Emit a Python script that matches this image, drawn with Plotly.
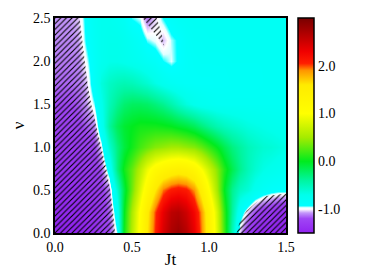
import plotly.graph_objects as go

# ---------------- data ----------------
JT = [0.0, 0.05, 0.1, 0.15, 0.2, 0.25, 0.3, 0.35, 0.4, 0.45, 0.5, 0.55, 0.6, 0.65, 0.7,
      0.75, 0.8, 0.85, 0.9, 0.95, 1.0, 1.05, 1.1, 1.15, 1.2, 1.25, 1.3, 1.35, 1.4, 1.45, 1.5]
NU = [0.0, 0.25, 0.5, 0.75, 1.0, 1.25, 1.5, 1.75, 2.0, 2.25, 2.5]

Z_NU_000 = [-1.5, -1.5, -1.5, -1.5, -1.45, -1.4, -1.3, -1.2, -0.95, 0.05, 0.6, 1.1, 1.6, 2.05, 2.45,
            2.7, 2.8, 2.65, 2.35, 1.95, 1.4, 0.8, 0.2, -0.5, -1.05, -1.3, -1.45, -1.5, -1.5, -1.5, -1.5]
Z_NU_025 = [-1.45, -1.45, -1.45, -1.45, -1.42, -1.38, -1.3, -1.15, -0.82, 0.0, 0.55, 1.05, 1.55, 2.0, 2.35,
            2.6, 2.65, 2.5, 2.25, 1.9, 1.35, 0.75, 0.15, -0.4, -0.85, -1.05, -1.2, -1.3, -1.35, -1.4, -1.45]
Z_NU_050 = [-1.4, -1.4, -1.4, -1.4, -1.37, -1.33, -1.25, -1.1, -0.6, -0.1, 0.35, 0.8, 1.2, 1.6, 1.95,
            2.1, 2.15, 2.1, 1.9, 1.5, 1.0, 0.5, 0.0, -0.35, -0.55, -0.63, -0.75, -0.83, -0.88, -0.9, -0.9]
Z_NU_075 = [-1.35, -1.35, -1.35, -1.35, -1.32, -1.27, -1.17, -0.85, -0.3, 0.05, 0.3, 0.6, 0.9, 1.15, 1.3,
            1.4, 1.45, 1.4, 1.25, 1.0, 0.7, 0.4, 0.1, -0.15, -0.35, -0.5, -0.6, -0.68, -0.72, -0.75, -0.78]
Z_NU_100 = [-1.3, -1.3, -1.3, -1.3, -1.27, -1.22, -1.0, -0.6, -0.3, -0.1, 0.05, 0.2, 0.3, 0.4, 0.45,
            0.5, 0.5, 0.45, 0.4, 0.3, 0.15, 0.0, -0.15, -0.3, -0.4, -0.5, -0.55, -0.6, -0.62, -0.65, -0.68]
Z_NU_125 = [-1.25, -1.25, -1.25, -1.22, -1.17, -1.1, -0.8, -0.4, -0.18, -0.06, 0.0, 0.05, 0.05, 0.05, 0.03,
            0.0, -0.05, -0.1, -0.18, -0.28, -0.38, -0.47, -0.53, -0.58, -0.62, -0.66, -0.68, -0.7, -0.72, -0.73, -0.74]
Z_NU_150 = [-1.2, -1.2, -1.2, -1.17, -1.08, -0.95, -0.72, -0.5, -0.35, -0.25, -0.2, -0.2, -0.22, -0.28, -0.35,
            -0.45, -0.55, -0.65, -0.72, -0.76, -0.78, -0.8, -0.8, -0.8, -0.8, -0.8, -0.8, -0.8, -0.8, -0.8, -0.8]
Z_NU_175 = [-1.15, -1.15, -1.15, -1.12, -1.05, -0.85, -0.65, -0.55, -0.5, -0.48, -0.5, -0.55, -0.6, -0.68, -0.75,
            -0.8, -0.83, -0.85, -0.85, -0.85, -0.85, -0.84, -0.84, -0.83, -0.83, -0.83, -0.83, -0.82, -0.82, -0.82, -0.82]
Z_NU_200 = [-1.12, -1.12, -1.12, -1.1, -0.98, -0.85, -0.75, -0.7, -0.7, -0.72, -0.75, -0.78, -0.82, -0.86, -0.93,
            -0.97, -0.92, -0.86, -0.84, -0.83, -0.83, -0.83, -0.83, -0.82, -0.82, -0.82, -0.82, -0.82, -0.82, -0.82, -0.82]
Z_NU_225 = [-1.1, -1.1, -1.1, -1.07, -0.92, -0.82, -0.75, -0.72, -0.72, -0.75, -0.8, -0.86, -0.95, -0.98, -1.05,
            -0.96, -0.92, -0.85, -0.82, -0.82, -0.81, -0.81, -0.8, -0.8, -0.8, -0.8, -0.8, -0.8, -0.8, -0.8, -0.8]
Z_NU_250 = [-1.08, -1.08, -1.08, -1.04, -0.9, -0.8, -0.75, -0.75, -0.78, -0.82, -0.94, -0.97, -1.12, -1.03, -0.93,
            -0.86, -0.82, -0.81, -0.8, -0.8, -0.8, -0.8, -0.8, -0.8, -0.8, -0.8, -0.8, -0.8, -0.8, -0.8, -0.8]

Z = [Z_NU_000, Z_NU_025, Z_NU_050, Z_NU_075, Z_NU_100, Z_NU_125,
     Z_NU_150, Z_NU_175, Z_NU_200, Z_NU_225, Z_NU_250]

# hatched regions (value < -1), boundaries
HATCH_LEFT_JT = [0.0, 0.39, 0.377, 0.358, 0.333, 0.30, 0.265, 0.235, 0.21, 0.192, 0.175, 0.16, 0.0]
HATCH_LEFT_NU = [0.0, 0.0, 0.25, 0.5, 0.75, 1.0, 1.25, 1.5, 1.75, 2.0, 2.25, 2.5, 2.5]
HATCH_RIGHT_JT = [1.18, 1.2, 1.245, 1.31, 1.375, 1.44, 1.5, 1.5]
HATCH_RIGHT_NU = [0.0, 0.14, 0.26, 0.36, 0.43, 0.45, 0.46, 0.0]
HATCH_TOP_JT = [0.569, 0.64, 0.71, 0.69, 0.66]
HATCH_TOP_NU = [2.5, 2.34, 2.175, 2.34, 2.5]

X_TICKS = [0.0, 0.5, 1.0, 1.5]
X_TICKTEXT = ["0.0", "0.5", "1.0", "1.5"]
Y_TICKS = [0.0, 0.5, 1.0, 1.5, 2.0, 2.5]
Y_TICKTEXT = ["0.0", "0.5", "1.0", "1.5", "2.0", "2.5"]
CB_TICKS = [-1.0, 0.0, 1.0, 2.0]
CB_TICKTEXT = ["-1.0", "0.0", "1.0", "2.0"]
ZMIN, ZMAX = -1.5, 3.0

# colour stops (value, colour)
CS_VALUES = [-1.5, -1.2, -1.08, -1.0, -0.97, -0.93, -0.7, -0.4, 0.0, 0.5, 1.0, 1.6, 1.9, 2.05, 2.3, 3.0]
CS_COLORS = ["rgb(145,35,240)", "rgb(160,70,245)", "rgb(195,150,250)", "rgb(255,255,255)",
             "rgb(225,255,255)", "rgb(0,255,255)", "rgb(0,255,235)", "rgb(0,245,160)",
             "rgb(0,235,30)", "rgb(165,235,0)", "rgb(255,255,0)", "rgb(255,235,0)",
             "rgb(255,150,0)", "rgb(255,30,0)", "rgb(240,0,0)", "rgb(120,0,0)"]
colorscale = [[(v - ZMIN) / (ZMAX - ZMIN), c] for v, c in zip(CS_VALUES, CS_COLORS)]

SERIF = "Liberation Serif"

# ---------------- figure ----------------
# the page has an 8px body margin, so the figure is 8px smaller and margins shifted
FIG_W, FIG_H = 361, 261
M_L, M_T, M_R, M_B = 47, 10, 83, 36
PLOT_W = FIG_W - M_L - M_R

fig = go.Figure()

CB_X = 1.052
CB_THICK = 16

fig.add_trace(go.Heatmap(
    x=JT, y=NU, z=Z, zmin=ZMIN, zmax=ZMAX, colorscale=colorscale, zsmooth="best",
    colorbar=dict(
        x=CB_X, xanchor="left", y=0, yanchor="bottom", len=1, lenmode="fraction",
        thickness=CB_THICK, thicknessmode="pixels", outlinewidth=1.5, outlinecolor="black",
        xpad=0, ypad=0, tickvals=CB_TICKS, ticktext=CB_TICKTEXT, ticks="",
        tickfont=dict(family=SERIF, size=14, color="black"),
    ),
    hoverinfo="skip",
))

for xs, ys in [(HATCH_LEFT_JT, HATCH_LEFT_NU), (HATCH_RIGHT_JT, HATCH_RIGHT_NU),
               (HATCH_TOP_JT, HATCH_TOP_NU)]:
    fig.add_trace(go.Scatter(
        x=xs, y=ys, mode="lines", line=dict(width=0, color="black"),
        fill="toself", fillcolor="rgba(0,0,0,0)",
        fillpattern=dict(shape="/", fgcolor="black", bgcolor="rgba(0,0,0,0)",
                         size=4, solidity=0.28, fillmode="replace"),
        hoverinfo="skip", showlegend=False,
    ))

# dashed tick marks across the colour bar
for v in CB_TICKS:
    yp = (v - ZMIN) / (ZMAX - ZMIN)
    fig.add_shape(type="line", xref="paper", yref="paper",
                  x0=CB_X, x1=CB_X + CB_THICK / PLOT_W, y0=yp, y1=yp,
                  line=dict(color="black", width=1.5, dash="5px,3px"))

fig.update_layout(
    width=FIG_W, height=FIG_H,
    margin=dict(l=M_L, r=M_R, t=M_T, b=M_B, autoexpand=False),
    paper_bgcolor="white", plot_bgcolor="white",
    showlegend=False,
    font=dict(family=SERIF, size=14, color="black"),
    xaxis=dict(range=[0, 1.5], tickvals=X_TICKS, ticktext=X_TICKTEXT, showline=True, mirror=True,
               linecolor="black", linewidth=1.5, ticks="", ticklen=1, showgrid=False, zeroline=False,
               automargin=False,
               title=dict(text="Jt", font=dict(family=SERIF, size=17), standoff=2),
               tickfont=dict(family=SERIF, size=14)),
    yaxis=dict(range=[0, 2.5], tickvals=Y_TICKS, ticktext=Y_TICKTEXT, showline=True, mirror=True,
               linecolor="black", linewidth=1.5, ticks="", ticklen=1, showgrid=False, zeroline=False,
               automargin=False,
               title=dict(text="ν", font=dict(family=SERIF, size=17), standoff=4),
               tickfont=dict(family=SERIF, size=14)),
)

fig.write_html("out.html")
